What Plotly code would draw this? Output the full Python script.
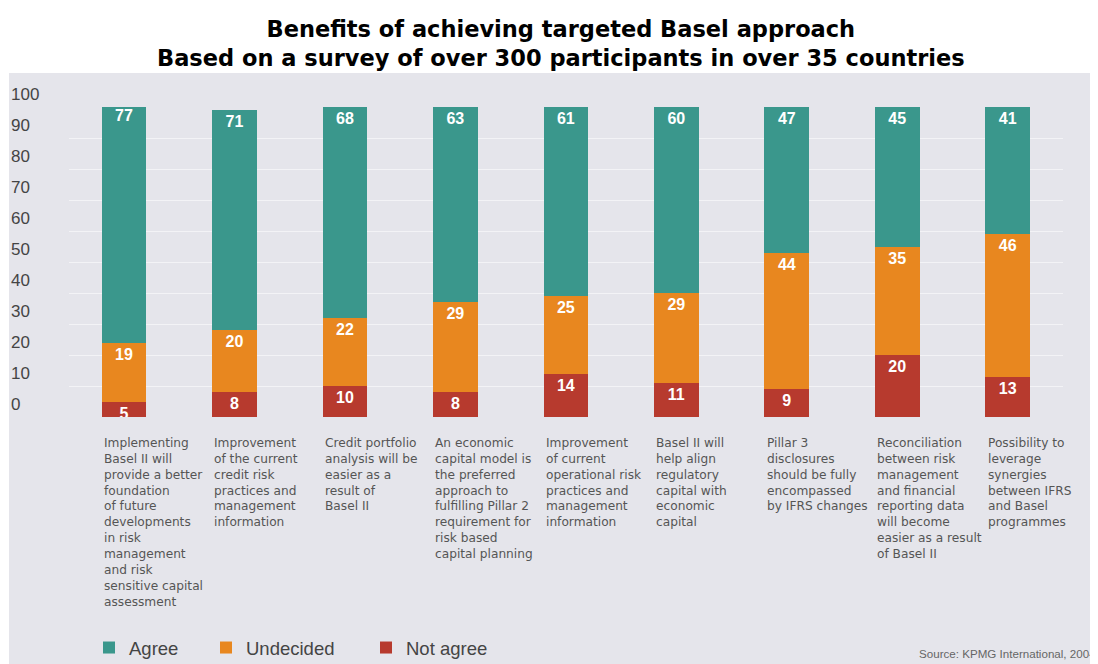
import plotly.graph_objects as go

categories = [
    "Implementing<br>Basel II will<br>provide a better<br>foundation<br>of future<br>developments<br>in risk<br>management<br>and risk<br>sensitive capital<br>assessment",
    "Improvement<br>of the current<br>credit risk<br>practices and<br>management<br>information",
    "Credit portfolio<br>analysis will be<br>easier as a<br>result of<br>Basel II",
    "An economic<br>capital model is<br>the preferred<br>approach to<br>fulfilling Pillar 2<br>requirement for<br>risk based<br>capital planning",
    "Improvement<br>of current<br>operational risk<br>practices and<br>management<br>information",
    "Basel II will<br>help align<br>regulatory<br>capital with<br>economic<br>capital",
    "Pillar 3<br>disclosures<br>should be fully<br>encompassed<br>by IFRS changes",
    "Reconciliation<br>between risk<br>management<br>and financial<br>reporting data<br>will become<br>easier as a result<br>of Basel II",
    "Possibility to<br>leverage<br>synergies<br>between IFRS<br>and Basel<br>programmes",
]
agree = [77, 71, 68, 63, 61, 60, 47, 45, 41]
undecided = [19, 20, 22, 29, 25, 29, 44, 35, 46]
not_agree = [5, 8, 10, 8, 14, 11, 9, 20, 13]
y_ticks = [0, 10, 20, 30, 40, 50, 60, 70, 80, 90, 100]
title_lines = ["Benefits of achieving targeted Basel approach",
               "Based on a survey of over 300 participants in over 35 countries"]
source_text = "Source: KPMG International, 2004"

C_AGREE = "#3a978c"
C_UND = "#e8871f"
C_NOT = "#b73a2e"
BG = "#e5e5eb"

# The page body adds an 8px offset; the figure fills the rest of the window.
OFF = 8
W, H = 1098 - OFF, 664 - OFF
ML, MR = 0, 35
MT = 107 - OFF
MB = H - (417 - OFF)
PW = W - ML - MR
PH = H - MT - MB


def px_x(px):
    """page pixel x -> paper fraction"""
    return (px - OFF - ML) / PW


def px_y(py):
    """page pixel y -> paper fraction"""
    return (H - MB - (py - OFF)) / PH


x = list(range(len(categories)))
bar_font = dict(family="Liberation Sans, Arial, sans-serif", size=16, color="white")

fig = go.Figure()
series = [("Not agree", not_agree, C_NOT, "legend3"),
          ("Undecided", undecided, C_UND, "legend2"),
          ("Agree", agree, C_AGREE, "legend")]
for name, vals, col, leg in series:
    fig.add_trace(go.Bar(
        x=x, y=vals, name=name, marker=dict(color=col, line=dict(width=0)),
        text=[f"<b>{v}</b>" for v in vals], textposition="inside",
        insidetextanchor="end", textangle=0, constraintext="none",
        textfont=bar_font, legend=leg, width=0.405,
    ))

# Grey scanned-page background
fig.add_shape(type="rect", xref="paper", yref="paper",
              x0=px_x(9), x1=px_x(1110), y0=px_y(680), y1=px_y(73),
              fillcolor=BG, line=dict(width=0), layer="below")

# Category labels, left-aligned under each bar
for i, c in enumerate(categories):
    fig.add_annotation(x=i - 0.2, y=px_y(434), xref="x", yref="paper",
                       text=c, showarrow=False, xanchor="left", yanchor="top",
                       align="left",
                       font=dict(family="DejaVu Sans, sans-serif", size=12.2, color="#555555"))

# Title
fig.add_annotation(x=px_x(561), y=px_y(14), xref="paper", yref="paper",
                   text="<b>" + title_lines[0] + "<br>" + title_lines[1] + "</b>",
                   showarrow=False, xanchor="center", yanchor="top", align="center",
                   font=dict(family="DejaVu Sans, sans-serif", size=22.5, color="black"))

# Source
fig.add_annotation(x=px_x(917), y=px_y(653), xref="paper", yref="paper",
                   text=source_text, showarrow=False, xanchor="left", yanchor="middle",
                   font=dict(family="Liberation Sans, Arial, sans-serif", size=11.6, color="#666666"))

leg_font = dict(family="Liberation Sans, Arial, sans-serif", size=18.5, color="#444444")
leg_common = dict(orientation="h", xanchor="left", yanchor="middle",
                  font=leg_font, bgcolor="rgba(0,0,0,0)", borderwidth=0)

fig.update_layout(
    width=W, height=H, autosize=False,
    margin=dict(l=ML, r=MR, t=MT, b=MB, pad=0, autoexpand=False),
    paper_bgcolor="white", plot_bgcolor="rgba(0,0,0,0)",
    barmode="stack",
    showlegend=True,
    legend=dict(x=px_x(89), y=px_y(648), **leg_common),
    legend2=dict(x=px_x(206), y=px_y(648), **leg_common),
    legend3=dict(x=px_x(366), y=px_y(648), **leg_common),
    xaxis=dict(domain=[px_x(68.75), 1], range=[-0.5, 8.5], showticklabels=False,
               showgrid=False, zeroline=False, showline=False, ticks="",
               automargin=False),
    yaxis=dict(range=[0, 100], tickvals=y_ticks, anchor="free", position=0,
               ticklabelposition="inside", ticklabelshift=-13, ticklabelstandoff=-1,
               ticklabeloverflow="allow",
               ticks="", automargin=False,
               showgrid=True, gridcolor="rgba(255,255,255,0.55)", gridwidth=1,
               zeroline=False, showline=False,
               tickfont=dict(family="Liberation Sans, Arial, sans-serif", size=17, color="#444444")),
)

fig.write_html("out.html")
